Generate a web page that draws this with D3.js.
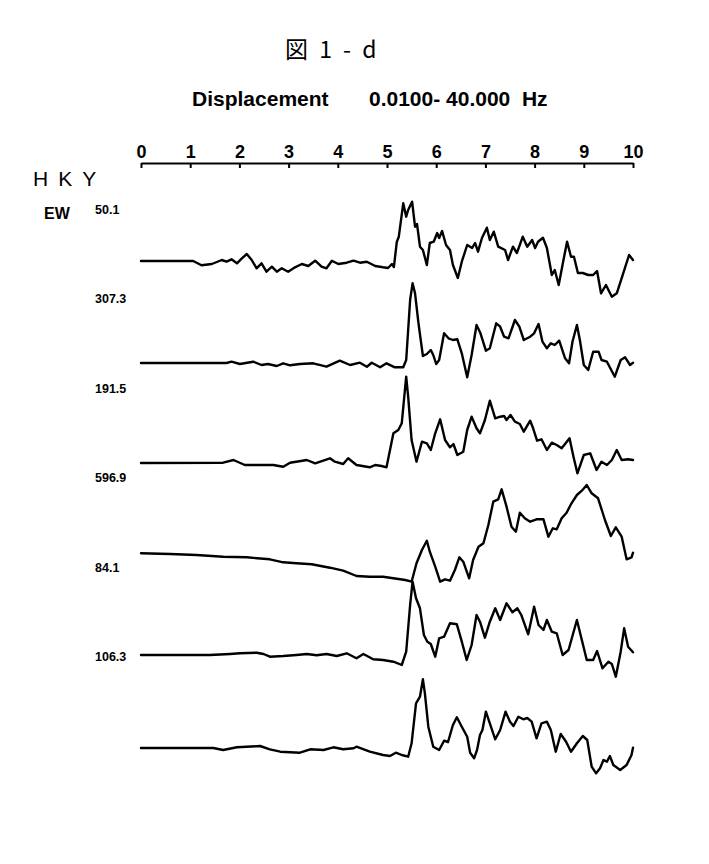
<!DOCTYPE html>
<html>
<head>
<meta charset="utf-8">
<script src="https://cdn.jsdelivr.net/npm/d3@7"></script>
<style>
    body { margin: 0; background: #fff; }
    text { font-family: "Liberation Sans", Arial, sans-serif; font-weight: bold; fill: #000; }
    .trace { fill: none; stroke: #000; stroke-width: 2.4; stroke-linejoin: round; stroke-linecap: round; }
</style>
</head>
<body>
<div id="main"></div>
<script>
const ctx = {
    w: 709,
    h: 864,
    x0: 141,
    x1: 633,
    axisY: 163,
    baselines: [261, 363, 463, 554, 656, 748],
    labelY0: 214,
    labelStep: 89.4
};

// time axis (s)
const TIME_TICKS = [0, 1, 2, 3, 4, 5, 6, 7, 8, 9, 10];
// peak displacement printed above each trace
const PEAK_LABELS = ["50.1", "307.3", "191.5", "596.9", "84.1", "106.3"];

// traces: [time s, relative amplitude]
const TRACE_1 = [
    [0, 0], [1.06, 0], [1.23, -4.3], [1.44, -3], [1.64, 1], [1.74, -0.7], [1.84, 1.7], [1.95, -2.3],
    [2.05, 2.7], [2.15, 7], [2.25, 1], [2.35, -7.3], [2.45, -2.3], [2.55, -10.7], [2.66, -5.7],
    [2.76, -10.7], [2.86, -7.3], [2.99, -10.7], [3.13, -6.3], [3.27, -3], [3.40, -5], [3.54, 0.3],
    [3.67, -5.7], [3.77, -7.3], [3.88, 0.3], [4.01, -3], [4.18, -1.7], [4.32, 0.3], [4.45, -1.7],
    [4.59, -0.7], [4.76, -5], [4.92, -6.3], [5.02, -7], [5.10, -3], [5.14, -6], [5.20, 19.3],
    [5.24, 24.3], [5.33, 57.7], [5.39, 44.3], [5.43, 51], [5.51, 59.3], [5.57, 34.3], [5.61, 37],
    [5.67, 14.3], [5.73, 11], [5.81, -4], [5.87, 18], [5.95, 19.3], [6.02, 28], [6.06, 23], [6.12, 30],
    [6.20, 16], [6.28, 11], [6.34, -4], [6.44, -17], [6.52, -0.7], [6.63, 16], [6.73, 13], [6.79, 18],
    [6.85, 9.3], [6.93, 23], [7.03, 33.3], [7.09, 21], [7.17, 29.3], [7.26, 14.3], [7.40, 11],
    [7.46, 1], [7.56, 14.3], [7.64, 8], [7.76, 24.3], [7.85, 14.3], [7.95, 21], [8.01, 13],
    [8.07, 19.3], [8.17, 23.3], [8.25, 13], [8.35, -14], [8.41, -9], [8.49, -24], [8.58, -0.7],
    [8.66, 19.3], [8.74, 4.3], [8.80, 4.3], [8.88, -12], [8.98, -12], [9.09, -14], [9.19, -14],
    [9.27, -10], [9.35, -32.3], [9.45, -24], [9.57, -35.7], [9.67, -32.3], [9.78, -15.7],
    [9.92, 6], [10.0, 1]
];
const TRACE_2 = [
    [0, 0], [1.74, 0], [1.84, 1.3], [2.01, -1], [2.28, 1.3], [2.45, -2], [2.58, -1], [2.76, -3],
    [2.89, -0.3], [3.03, -2.3], [3.23, -1], [3.50, -0.3], [3.77, -3.7], [4.04, 2.3], [4.25, -2],
    [4.45, 0.3], [4.59, -3.7], [4.69, 0.3], [4.86, -4.3], [4.99, -0.3], [5.16, -4.3], [5.33, -4.3],
    [5.39, 3], [5.47, 63], [5.52, 79.7], [5.57, 69.7], [5.64, 39.7], [5.73, 7], [5.81, 9], [5.89, 13],
    [5.94, 8], [6.00, -1], [6.06, 3], [6.16, 29.7], [6.25, 24.7], [6.34, 23], [6.43, 23.7],
    [6.52, 9.7], [6.63, -14.3], [6.72, 8], [6.82, 38], [6.90, 29.7], [7.01, 12.3], [7.09, 14.7],
    [7.22, 39.7], [7.30, 36.3], [7.38, 26.3], [7.47, 24.7], [7.60, 43], [7.69, 36.3], [7.78, 23],
    [7.91, 26.3], [7.99, 29.7], [8.08, 39], [8.16, 21.3], [8.25, 14.7], [8.33, 19.7], [8.41, 18],
    [8.50, 22.3], [8.62, 4.7], [8.70, -0.3], [8.77, 21.3], [8.86, 38], [8.92, 23], [9.00, -2],
    [9.09, -7], [9.19, 11.3], [9.30, 11.3], [9.36, 3], [9.47, 1.3], [9.63, -13.7], [9.75, 3],
    [9.84, 5.7], [9.94, -2], [10.0, 0.3]
];
const TRACE_3 = [
    [0, 0], [1.67, 0.3], [1.88, 3], [2.11, -2], [2.69, -2], [2.89, -3.7], [3.03, 0.3], [3.37, 3],
    [3.54, -0.3], [3.84, 4.7], [3.94, 1.3], [4.11, -1], [4.21, 4.7], [4.38, -2], [4.65, -4.3],
    [4.76, -2], [4.89, -3], [4.99, -4.3], [5.13, 29.7], [5.23, 33], [5.30, 39.7], [5.39, 86.3],
    [5.43, 66.3], [5.50, 23], [5.60, 1.3], [5.71, 21.3], [5.81, 19.7], [5.89, 13], [5.98, 29.7],
    [6.08, 43.7], [6.18, 23], [6.28, 15.7], [6.35, 19], [6.43, 8], [6.55, 11.3], [6.63, 33],
    [6.72, 46.3], [6.82, 34.7], [6.89, 29.7], [6.99, 43], [7.09, 62.3], [7.20, 44.7], [7.30, 46.3],
    [7.38, 47], [7.43, 43], [7.51, 48], [7.60, 41.3], [7.70, 39], [7.78, 31.3], [7.91, 42.3],
    [7.97, 34.7], [8.05, 22.3], [8.14, 23.7], [8.25, 13], [8.35, 20.3], [8.45, 18], [8.55, 14.7],
    [8.71, 24.7], [8.79, 6.3], [8.87, -10.3], [9.00, 8], [9.13, 9.7], [9.26, -7], [9.36, 1.3],
    [9.47, -2], [9.57, 3], [9.67, 13], [9.77, 3], [9.90, 3.7], [10.0, 3]
];
const TRACE_4 = [
    [0, 0.7], [0.59, 0], [1.13, -1], [1.67, -2.7], [2.15, -3.3], [2.62, -5.3], [2.89, -8.3],
    [3.16, -9.3], [3.47, -10.3], [3.84, -13.7], [4.11, -16.7], [4.38, -22], [4.65, -22.7],
    [4.92, -22.7], [5.20, -24.7], [5.37, -26], [5.50, -27.7], [5.60, -9.3], [5.71, 4], [5.81, 13.3],
    [5.87, 2.3], [5.98, -12.7], [6.08, -27.7], [6.18, -25.3], [6.28, -26.7], [6.38, -16],
    [6.47, -3.3], [6.55, -7.7], [6.67, -24.3], [6.75, -6], [6.86, 7.3], [6.96, 10.7], [7.06, 29],
    [7.16, 52.3], [7.26, 54.7], [7.33, 64.7], [7.43, 47.3], [7.53, 27.3], [7.62, 22.3], [7.70, 41.3],
    [7.80, 35.7], [7.91, 32.3], [8.04, 34.7], [8.18, 34.7], [8.28, 17.3], [8.37, 25.7], [8.45, 24.7],
    [8.55, 35.7], [8.65, 41.3], [8.75, 50.7], [8.86, 59], [8.96, 63.3], [9.06, 69], [9.16, 60.7],
    [9.29, 55.7], [9.43, 34], [9.55, 18], [9.65, 26.7], [9.77, 17.3], [9.87, -5.3], [9.97, -3.3],
    [10.0, 1.3]
];
const TRACE_5 = [
    [0, 1], [1.40, 1], [1.81, 2], [2.01, 2.7], [2.35, 3.3], [2.49, 2], [2.62, -0.7], [2.89, 0],
    [3.16, 1], [3.37, 2], [3.57, 0.7], [3.77, 2], [3.98, 0], [4.18, 2.7], [4.38, -2.3], [4.52, 2],
    [4.72, -3.3], [4.92, -4], [5.13, -5.7], [5.30, -9], [5.39, 4.3], [5.47, 51], [5.52, 74.3],
    [5.59, 57.7], [5.67, 47.7], [5.75, 21], [5.82, 14.3], [5.89, 12], [5.98, -0.7], [6.06, 17.7],
    [6.16, 19.3], [6.28, 32.7], [6.42, 31.7], [6.52, 14.3], [6.62, -4], [6.72, 11], [6.82, 41],
    [6.89, 34.3], [6.99, 18.3], [7.09, 34.3], [7.20, 47.7], [7.30, 36], [7.43, 52.7], [7.55, 43.7],
    [7.65, 47.7], [7.73, 41], [7.87, 21.7], [7.99, 49.3], [8.08, 31], [8.18, 26], [8.25, 36],
    [8.35, 24.3], [8.45, 22.7], [8.57, 1], [8.69, 6], [8.86, 36], [8.96, 16], [9.06, -4],
    [9.19, -4], [9.27, 5], [9.38, -12.3], [9.50, -5.7], [9.57, -8], [9.65, -20.7], [9.75, 4.3],
    [9.82, 27.7], [9.90, 9.3], [10.0, 3.7]
];
const TRACE_6 = [
    [0, 0], [1.47, 0], [1.67, -2], [1.95, 0.7], [2.42, 2], [2.62, -1.3], [2.83, -3.7], [3.23, -4.7],
    [3.44, -1.3], [3.71, -2], [3.91, 0.7], [4.11, -1.3], [4.32, -0.3], [4.38, 1.3], [4.65, -3.7],
    [4.92, -7], [5.06, -8], [5.18, -4.7], [5.30, -7], [5.43, -8.7], [5.50, 4.7], [5.59, 44.7],
    [5.67, 51.3], [5.73, 68.7], [5.77, 54.7], [5.84, 21.3], [5.94, 1.3], [6.06, -2], [6.16, 7.3],
    [6.24, 6], [6.34, 23], [6.42, 30.7], [6.52, 21.3], [6.63, 11.3], [6.69, -4.7], [6.77, -10.3],
    [6.83, -2], [6.89, 13], [6.94, 18], [7.01, 36.3], [7.09, 24.7], [7.20, 8.7], [7.30, 18],
    [7.41, 36.3], [7.50, 26.3], [7.57, 22], [7.67, 31.3], [7.77, 28.7], [7.85, 30], [7.94, 26.3],
    [8.04, 9.7], [8.14, 24.7], [8.25, 26.3], [8.33, 18], [8.43, -3.7], [8.53, 14], [8.64, 6.3],
    [8.74, -3.7], [8.86, 4.7], [8.98, 12], [9.07, 8], [9.16, -18.7], [9.25, -25.3], [9.33, -20.3],
    [9.40, -12], [9.47, -13.7], [9.53, -8], [9.60, -17], [9.74, -22], [9.87, -17], [9.97, -7],
    [10.0, 0.3]
];
const TRACES = [TRACE_1, TRACE_2, TRACE_3, TRACE_4, TRACE_5, TRACE_6];


function createViz() {
    let svgEl = d3.select("#main").append("svg")
        .attr("width", ctx.w)
        .attr("height", ctx.h);
    svgEl.append("rect")
        .attr("width", "100%")
        .attr("height", "100%")
        .attr("fill", "#fff");

    ctx.xScale = d3.scaleLinear().domain([0, 10]).range([ctx.x0, ctx.x1]);

    drawHeader(svgEl);
    drawAxis(svgEl);
    drawTraces(svgEl);
};


function drawHeader(svgEl) {
    // handwritten figure number
    svgEl.append("text")
        .attr("x", 285)
        .attr("y", 58)
        .style("font-family", "'Noto Sans CJK JP', sans-serif")
        .style("font-weight", "normal")
        .style("font-size", "23px")
        .style("letter-spacing", "3px")
        .text("図 1 - d");

    svgEl.append("text")
        .attr("x", 192)
        .attr("y", 106)
        .style("font-size", "21px")
        .text("Displacement");
    svgEl.append("text")
        .attr("x", 369)
        .attr("y", 106)
        .style("font-size", "21px")
        .style("white-space", "pre")
        .text("0.0100- 40.000  Hz");

    // station name, handwritten
    svgEl.append("text")
        .attr("x", 33)
        .attr("y", 186)
        .style("font-family", "'Liberation Sans', Arial, sans-serif")
        .style("font-weight", "normal")
        .style("font-size", "21px")
        .style("letter-spacing", "10px")
        .text("HKY");

    svgEl.append("text")
        .attr("x", 44)
        .attr("y", 219)
        .style("font-size", "16px")
        .text("EW");
};


function drawAxis(svgEl) {
    let axis = d3.axisTop(ctx.xScale)
        .tickValues(TIME_TICKS)
        .tickFormat(d3.format("d"))
        .tickSizeInner(-5)
        .tickSizeOuter(0)
        .tickPadding(5);
    let axisG = svgEl.append("g")
        .attr("transform", `translate(0,${ctx.axisY})`)
        .call(axis);
    axisG.select(".domain").attr("stroke-width", 2);
    axisG.selectAll(".tick line").attr("stroke-width", 2);
    axisG.selectAll(".tick text")
        .style("font-family", "'Liberation Sans', Arial, sans-serif")
        .style("font-weight", "bold")
        .style("font-size", "18px")
        .attr("fill", "#000");
};


function drawTraces(svgEl) {
    let traceG = svgEl.append("g").attr("id", "traces");
    TRACES.forEach(function (trace, i) {
        let base = ctx.baselines[i];
        let yScale = d3.scaleLinear().domain([-50, 100]).range([base + 50, base - 100]);
        let line = d3.line()
            .x(d => ctx.xScale(d[0]))
            .y(d => yScale(d[1]));
        traceG.append("path")
            .datum(trace)
            .attr("class", "trace")
            .attr("d", line);

        traceG.append("text")
            .attr("x", 95)
            .attr("y", ctx.labelY0 + i * ctx.labelStep)
            .style("font-size", "12.5px")
            .text(PEAK_LABELS[i]);
    });
};

createViz();
</script>
</body>
</html>
